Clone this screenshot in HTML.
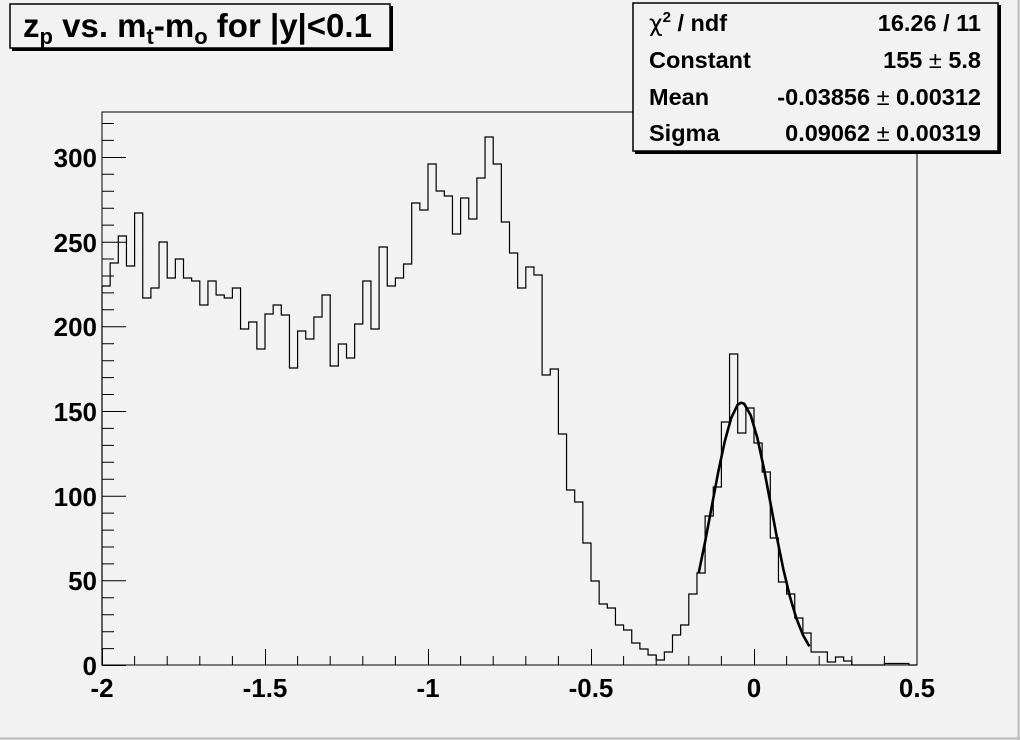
<!DOCTYPE html>
<html><head><meta charset="utf-8"><style>
html,body{margin:0;padding:0;background:#f2f2f2;}
svg{display:block;font-family:"Liberation Sans",Arial,sans-serif;font-weight:bold;}
</style></head><body>
<svg width="1020" height="740" viewBox="0 0 1020 740" xmlns="http://www.w3.org/2000/svg">
<rect x="0" y="0" width="1020" height="740" fill="#f2f2f2"/>
<line x1="1018.5" y1="0" x2="1018.5" y2="740" stroke="#bbb" stroke-width="2"/>
<line x1="0" y1="738.5" x2="1020" y2="738.5" stroke="#bbb" stroke-width="2"/>
<rect x="102" y="112" width="815" height="553" fill="#f2f2f2" stroke="#000" stroke-width="1"/>
<path transform="translate(102,0) scale(8.15,1)" vector-effect="non-scaling-stroke" fill="none" stroke="#000" stroke-width="1.2"
d="M0,665 V286 H1 V263 H2 V236 H3 V266 H4 V213 H5 V298 H6 V288 H7 V242 H8 V278 H9 V259 H10 V278 H11 V281 H12 V305 H13 V281 H14 V295 H15 V298 H16 V288 H17 V329 H18 V322 H19 V349 H20 V314 H21 V305 H22 V315 H23 V368 H24 V331 H25 V339 H26 V317 H27 V295 H28 V366 H29 V344 H30 V358 H31 V324 H32 V281 H33 V329 H34 V247 H35 V286 H36 V278 H37 V264 H38 V203 H39 V210 H40 V164 H41 V191 H42 V196 H43 V234 H44 V198 H45 V219 H46 V178 H47 V137 H48 V164 H49 V222 H50 V253 H51 V288 H52 V267 H53 V275 H54 V375 H55 V369 H56 V434 H57 V490 H58 V502 H59 V543 H60 V581 H61 V604 H62 V608 H63 V625 H64 V630 H65 V643 H66 V649 H67 V655 H68 V660 H69 V652 H70 V635 H71 V625 H72 V594 H73 V573 H74 V516 H75 V487 H76 V422 H77 V354 H78 V433 H79 V408 H80 V443 H81 V472 H82 V538 H83 V582 H84 V594 H85 V618 H86 V633 H87 V652 H88 V652 H89 V662 H90 V657 H91 V661 H92 V665 H96 V663.5 H99 V665 H100"/>
<polyline fill="none" stroke="#000" stroke-width="2.6" stroke-linejoin="round"
points="698.6,573.4 705.1,541.8 711.6,507.3 718.1,472.7 724.7,441.6 731.2,417.9 737.7,404.6 741,402.8 744.2,403.8 750.7,415.3 757.3,437.7 763.8,467.9 770.3,502.3 776.8,537 783.3,569 789.9,596.6 796.4,618.4 802.9,634.9 809.4,646.4"/>
<g stroke="#000" stroke-width="1">
<path d="M102,665H917"/>
<path d="M102,665V112"/>
<path d="M102.5,665v-16M265.5,665v-16M428.5,665v-16M591.5,665v-16M754.5,665v-16M917,665v-16
M134.6,665v-9M167.2,665v-9M199.8,665v-9M232.4,665v-9
M297.6,665v-9M330.2,665v-9M362.8,665v-9M395.4,665v-9
M460.6,665v-9M493.2,665v-9M525.8,665v-9M558.4,665v-9
M623.6,665v-9M656.2,665v-9M688.8,665v-9M721.4,665v-9
M786.6,665v-9M819.2,665v-9M851.8,665v-9M884.4,665v-9"/>
<path d="M102,665.5h24M102,580.8h24M102,496.2h24M102,411.5h24M102,326.8h24M102,242.2h24M102,157.5h24
M102,648.6h12M102,631.7h12M102,614.8h12M102,597.8h12
M102,563.9h12M102,547h12M102,530.1h12M102,513.1h12
M102,479.2h12M102,462.3h12M102,445.4h12M102,428.4h12
M102,394.5h12M102,377.6h12M102,360.7h12M102,343.7h12
M102,309.8h12M102,292.9h12M102,276h12M102,259h12
M102,225.1h12M102,208.2h12M102,191.3h12M102,174.3h12
M102,140.4h12M102,123.5h12"/>
</g>
<g font-size="26" text-anchor="end" fill="#000">
<text x="97" y="675">0</text>
<text x="97" y="590">50</text>
<text x="97" y="506">100</text>
<text x="97" y="421">150</text>
<text x="97" y="336">200</text>
<text x="97" y="252">250</text>
<text x="97" y="167">300</text>
</g>
<g font-size="26" text-anchor="middle" fill="#000">
<text x="102" y="697">-2</text>
<text x="265" y="697">-1.5</text>
<text x="428" y="697">-1</text>
<text x="591" y="697">-0.5</text>
<text x="754" y="697">0</text>
<text x="917" y="697">0.5</text>
</g>
<rect x="12" y="6" width="381" height="45" fill="#000"/>
<rect x="10" y="4" width="380" height="44" fill="#f2f2f2" stroke="#000" stroke-width="1.5"/>
<text x="23" y="37" font-size="33" fill="#000">z<tspan font-size="22" dy="7">p</tspan><tspan dy="-7"> vs. m</tspan><tspan font-size="22" dy="7">t</tspan><tspan dy="-7">-m</tspan><tspan font-size="22" dy="7">o</tspan><tspan dy="-7"> for |y|&lt;0.1</tspan></text>
<rect x="635" y="5" width="366" height="149" fill="#000"/>
<rect x="633" y="3" width="365" height="148" fill="#f2f2f2" stroke="#000" stroke-width="1.5"/>
<g font-size="23.5" fill="#000">
<text x="649" y="31"><tspan font-family="DejaVu Sans" font-weight="normal">χ</tspan><tspan font-size="15" dy="-9">2</tspan><tspan dy="9"> / ndf</tspan></text>
<text x="649" y="68">Constant</text>
<text x="649" y="105">Mean</text>
<text x="649" y="141">Sigma</text>
</g>
<g font-size="23.5" fill="#000" text-anchor="end">
<text x="981" y="31">16.26 / 11</text>
<text x="981" y="68">155 <tspan font-weight="normal">±</tspan> 5.8</text>
<text x="981" y="105">-0.03856 <tspan font-weight="normal">±</tspan> 0.00312</text>
<text x="981" y="141">0.09062 <tspan font-weight="normal">±</tspan> 0.00319</text>
</g>
</svg>
</body></html>
